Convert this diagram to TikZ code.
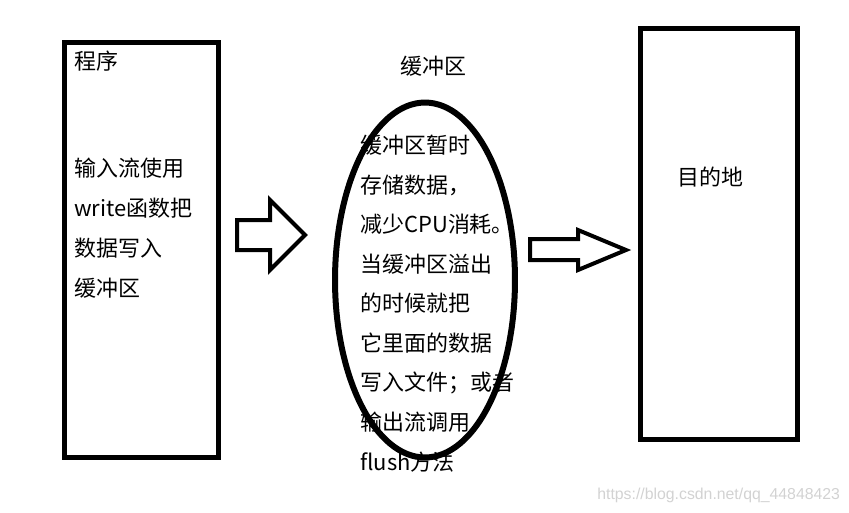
\documentclass[tikz,border=0pt]{standalone}
\usepackage{fontspec}
\setmainfont{Noto Sans CJK SC}
\newfontfamily\markfont{Liberation Sans}
\usetikzlibrary{positioning,shapes.geometric}
\definecolor{ink}{HTML}{000000}
\definecolor{mark}{HTML}{D2D2D2}

\begin{document}
\begin{tikzpicture}[x=0.02cm, y=-0.02cm,
    every node/.style={font=\fontsize{12.5}{22.7}\selectfont, inner sep=0pt},
    tall/.style={draw=ink, line width=0.1cm, rectangle, minimum width=#1},
    txt/.style={anchor=base west, align=left},
    fat/.style={draw=ink, line width=0.08cm, line join=miter}]
    \useasboundingbox (0,0) rectangle (849,512);
    \node[tall=3.1cm, minimum height=8.32cm] (prog) at (141.5,250) {};
    \node[tall=3.16cm, minimum height=8.24cm] (dest) at (719,234) {};
    \node[draw=ink, line width=0.12cm, ellipse, minimum width=3.6cm, minimum height=7.1cm] (buf) at (425,280) {};
    % multi-line texts sit on the baseline of their last line
    \node[txt] (progname) at (74,69) {程序};
    \node[txt] (progtext) at (74,296) {输入流使用\\write函数把\\数据写入\\缓冲区};
    \node[txt] (bufname) at (400,74) {缓冲区};
    \node[txt, font=\fontsize{12.5}{22.5}\selectfont] (buftext) at (360,470) {缓冲区暂时\\存储数据，\\减少CPU消耗。\\当缓冲区溢出\\的时候就把\\它里面的数据\\写入文件；或者\\输出流调用\\flush方法};
    \node[txt] (destname) at (677,185) {目的地};
    % block arrows
    \draw[fat] (237,220) -- (270,220) -- (270,200) -- (305,235) -- (270,270) -- (270,250) -- (237,250) -- cycle;
    \draw[fat] (530,239) -- (578,239) -- (578,230) -- (626,250) -- (578,270) -- (578,260) -- (530,260) -- cycle;
    \node[txt, font=\markfont\fontsize{9}{10}\selectfont, text=mark] (mark) at (597,499) {https://blog.csdn.net/qq\_44848423};
\end{tikzpicture}
\end{document}
